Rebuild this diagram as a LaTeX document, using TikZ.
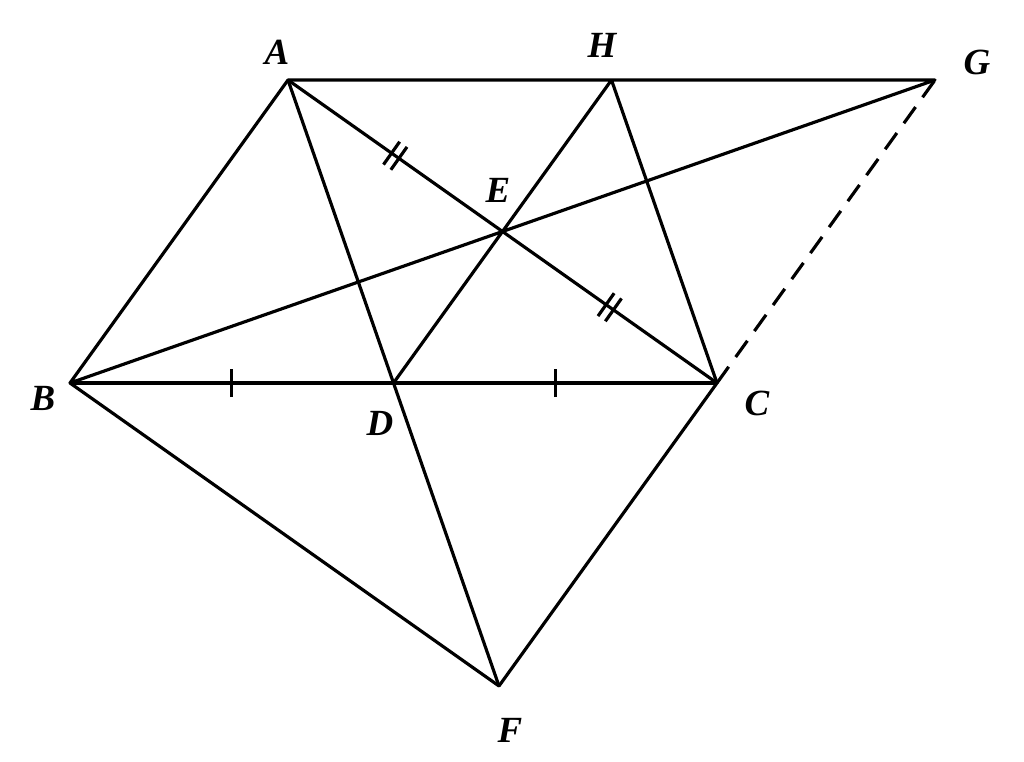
\documentclass[tikz,border=0pt]{standalone}
\usepackage{fontspec}
\setmainfont{Liberation Serif}
\usetikzlibrary{calc,decorations.markings}

\begin{document}
\begin{tikzpicture}
[line width=0.9pt, line join=round,
lbl/.style={font=\fontsize{10.5}{12}\selectfont\bfseries\itshape, inner sep=0pt},
onetick/.style={postaction={decorate}, decoration={markings,
	mark=at position 0.25 with {\draw (0,-0.14) -- (0,0.14);},
	mark=at position 0.75 with {\draw (0,-0.14) -- (0,0.14);}}},
twoticks/.style={postaction={decorate}, decoration={markings,
	mark=at position 0.25 with {\draw (-0.045,-0.14) -- (-0.045,0.14) (0.045,-0.14) -- (0.045,0.14);},
	mark=at position 0.75 with {\draw (-0.045,-0.14) -- (-0.045,0.14) (0.045,-0.14) -- (0.045,0.14);}}}]

\useasboundingbox (0,0) rectangle (10.24,7.61);

% points
\coordinate (A) at (2.88,6.81);
\coordinate (B) at (0.70,3.78);
\coordinate (C) at (7.17,3.78);
\coordinate (D) at ($(B)!0.5!(C)$);
\coordinate (E) at ($(A)!0.5!(C)$);
\coordinate (F) at ($(A)!2!(D)$);
\coordinate (G) at ($(B)!2!(E)$);
\coordinate (H) at ($(D)!2!(E)$);

% segments
\draw (B) -- (A) -- (G) -- (B) -- (F) -- (C) -- (H) -- (D);
\draw (A) -- (F);
\draw[onetick] (B) -- (C);
\draw[twoticks] (A) -- (C);
\draw[dash pattern=on 0.2cm off 0.12cm] (C) -- (G);

% labels
\node[lbl] (la) at (2.77,7.09) {A};
\node[lbl] (lh) at (6.02,7.16) {H};
\node[lbl] (lg) at (9.77,6.99) {G};
\node[lbl] (lb) at (0.43,3.63) {B};
\node[lbl] (lc) at (7.57,3.58) {C};
\node[lbl] (ld) at (3.80,3.38) {D};
\node[lbl] (le) at (4.98,5.71) {E};
\node[lbl] (lf) at (5.10,0.31) {F};

\end{tikzpicture}
\end{document}
